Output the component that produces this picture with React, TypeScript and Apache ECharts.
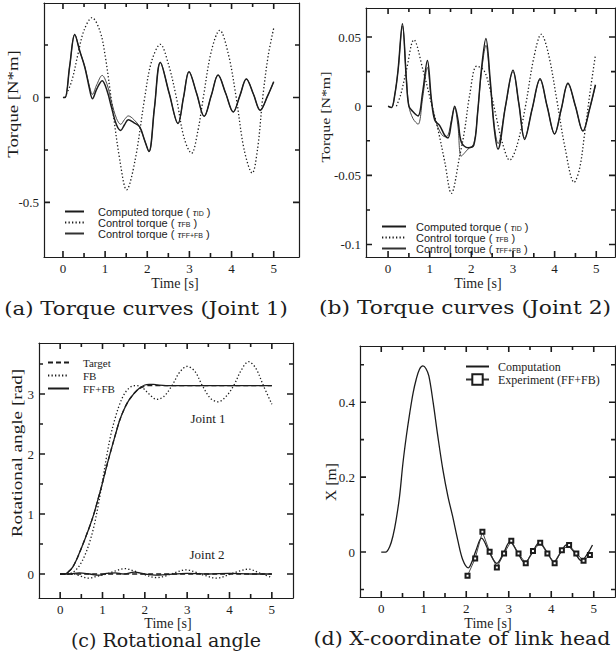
import React, { useEffect, useRef } from 'react';
import * as echarts from 'echarts';

// ---------- (a) Torque curves, Joint 1 ----------
const aTime = [0, 0.05, 0.16, 0.28, 0.4, 0.52, 0.62, 0.7, 0.8, 0.93, 1.05, 1.15, 1.27, 1.37, 1.46, 1.55, 1.68, 1.82, 1.93, 2.04, 2.17, 2.31, 2.52, 2.73, 2.86, 2.99, 3.17, 3.35, 3.52, 3.68, 3.86, 4.04, 4.2, 4.35, 4.52, 4.68, 4.85, 5.0];
const aComputed = [0, 0, 0.15, 0.3, 0.22, 0.143, 0.05, -0.006, 0.04, 0.08, 0.03, -0.046, -0.13, -0.157, -0.13, -0.106, -0.12, -0.14, -0.2, -0.258, -0.05, 0.167, 0.02, -0.124, 0.0, 0.123, 0.02, -0.09, 0.01, 0.107, 0.02, -0.069, 0.01, 0.088, 0.015, -0.061, 0.005, 0.075];
const aFFFB = [0, 0, 0.15, 0.3, 0.22, 0.145, 0.06, 0.015, 0.06, 0.105, 0.06, -0.02, -0.1, -0.128, -0.105, -0.088, -0.105, -0.14, -0.2, -0.258, -0.05, 0.167, 0.02, -0.124, 0.0, 0.123, 0.02, -0.09, 0.01, 0.107, 0.02, -0.069, 0.01, 0.088, 0.015, -0.061, 0.005, 0.075];
const aTimeFB = [0.05, 0.21, 0.36, 0.5, 0.69, 0.88, 1.0, 1.15, 1.35, 1.51, 1.71, 1.94, 2.1, 2.31, 2.5, 2.69, 2.87, 3.05, 3.2, 3.33, 3.52, 3.72, 3.92, 4.11, 4.3, 4.49, 4.62, 4.74, 4.87, 5.0];
const aFB = [0, 0.08, 0.21, 0.32, 0.38, 0.315, 0.2, -0.014, -0.3, -0.44, -0.3, 0.0, 0.17, 0.253, 0.16, 0.0, -0.19, -0.266, -0.16, 0.0, 0.22, 0.32, 0.21, 0.0, -0.25, -0.36, -0.24, 0.0, 0.2, 0.33];

// ---------- (b) Torque curves, Joint 2 ----------
const bTime = [0, 0.08, 0.16, 0.24, 0.345, 0.44, 0.5, 0.6, 0.72, 0.83, 0.945, 1.04, 1.12, 1.24, 1.36, 1.44, 1.52, 1.6, 1.68, 1.76, 1.92, 2.06, 2.15, 2.24, 2.35, 2.45, 2.55, 2.64, 2.82, 3.0, 3.14, 3.28, 3.46, 3.65, 3.82, 4.0, 4.16, 4.32, 4.5, 4.68, 4.84, 4.98];
const bComputed = [0, -0.001, 0.008, 0.026, 0.0596, 0.019, 0.0, -0.004, -0.007, 0.01, 0.033, 0.005, -0.01, -0.014, -0.021, -0.023, -0.012, 0.0, -0.01, -0.026, -0.03, -0.028, -0.005, 0.026, 0.049, 0.02, -0.016, -0.031, 0.0, 0.026, 0.002, -0.024, -0.002, 0.0198, 0.0, -0.02, -0.002, 0.0167, 0.0, -0.018, -0.002, 0.0155];
const bFFFB = [0, -0.001, 0.008, 0.026, 0.058, 0.02, 0.0, -0.009, -0.013, 0.006, 0.028, 0.004, -0.008, -0.018, -0.022, -0.021, -0.01, -0.001, -0.015, -0.036, -0.031, -0.027, -0.005, 0.024, 0.044, 0.018, -0.014, -0.027, 0.0, 0.025, 0.002, -0.023, -0.002, 0.019, 0.0, -0.02, -0.002, 0.016, 0.0, -0.018, -0.002, 0.015];
const bTimeFB = [0.2, 0.3, 0.44, 0.62, 0.84, 1.04, 1.2, 1.36, 1.52, 1.72, 1.84, 1.96, 2.13, 2.3, 2.45, 2.6, 2.75, 2.92, 3.1, 3.3, 3.5, 3.68, 3.85, 4.05, 4.25, 4.47, 4.6, 4.72, 4.85, 4.98];
const bFB = [0, 0.008, 0.026, 0.048, 0.026, 0.002, -0.017, -0.04, -0.063, -0.036, -0.017, 0.008, 0.029, 0.026, 0.012, -0.008, -0.027, -0.039, -0.028, 0.0, 0.035, 0.052, 0.038, 0.005, -0.03, -0.055, -0.045, -0.02, 0.01, 0.037];

// ---------- (c) Rotational angle ----------
const cTime = [0, 0.1, 0.2, 0.3, 0.4, 0.5, 0.6, 0.7, 0.8, 0.9, 1.0, 1.1, 1.2, 1.3, 1.4, 1.5, 1.6, 1.7, 1.8, 1.9, 2.0, 2.1, 2.2, 2.3, 2.5, 3.0, 3.5, 4.0, 4.5, 5.0];
const cTarget1 = [0, 0, 0.04, 0.12, 0.26, 0.43, 0.61, 0.8, 1.01, 1.26, 1.52, 1.8, 2.06, 2.31, 2.55, 2.73, 2.87, 2.97, 3.05, 3.1, 3.13, 3.14, 3.14, 3.14, 3.14, 3.14, 3.14, 3.14, 3.14, 3.14];
const cFFFB1 = [0, 0, 0.04, 0.12, 0.26, 0.43, 0.61, 0.8, 1.01, 1.26, 1.52, 1.8, 2.06, 2.31, 2.55, 2.73, 2.87, 2.97, 3.05, 3.11, 3.15, 3.16, 3.16, 3.15, 3.14, 3.14, 3.14, 3.14, 3.14, 3.14];
const cTimeFB1 = [0, 0.2, 0.3, 0.4, 0.5, 0.6, 0.7, 0.8, 0.9, 1.0, 1.1, 1.2, 1.3, 1.4, 1.5, 1.6, 1.7, 1.8, 1.95, 2.1, 2.28, 2.45, 2.65, 2.82, 3.0, 3.18, 3.35, 3.55, 3.73, 3.92, 4.1, 4.28, 4.45, 4.62, 4.8, 5.0];
const cFB1 = [0, 0, 0.03, 0.09, 0.19, 0.34, 0.54, 0.8, 1.15, 1.55, 1.97, 2.33, 2.6, 2.82, 2.98, 3.08, 3.13, 3.14, 3.1, 3.0, 2.91, 2.96, 3.15, 3.36, 3.46, 3.38, 3.15, 2.93, 2.87, 2.96, 3.14, 3.4, 3.54, 3.43, 3.14, 2.83];
const cTimeJ2 = [0, 0.2, 0.45, 0.7, 0.9, 1.1, 1.3, 1.5, 1.75, 2.0, 2.25, 2.5, 3.0, 3.5, 4.0, 4.5, 5.0];
const cTarget2 = [0, 0, 0, 0, 0, 0, 0, 0, 0, 0, 0, 0, 0, 0, 0, 0, 0];
const cFFFB2 = [0, 0, 0.02, 0.0, -0.02, 0.01, 0.02, 0.0, 0.03, 0.0, -0.02, -0.01, 0.01, 0.0, 0.01, 0.0, 0.0];
const cTimeFB2 = [0, 0.3, 0.5, 0.67, 0.85, 1.1, 1.3, 1.52, 1.75, 1.95, 2.28, 2.5, 2.7, 2.98, 3.2, 3.4, 3.7, 3.95, 4.15, 4.45, 4.7, 5.0];
const cFB2 = [0, 0, -0.04, -0.07, -0.04, 0.0, 0.05, 0.09, 0.05, 0.0, -0.06, -0.03, 0.02, 0.07, 0.03, -0.02, -0.07, -0.02, 0.03, 0.08, 0.02, -0.06];

// ---------- (d) X-coordinate of link head ----------
const dTime = [0, 0.1, 0.2, 0.28, 0.35, 0.43, 0.51, 0.59, 0.67, 0.75, 0.82, 0.9, 0.98, 1.05, 1.12, 1.22, 1.33, 1.45, 1.57, 1.68, 1.8, 1.92, 2.05, 2.15, 2.23, 2.36, 2.54, 2.72, 2.88, 3.03, 3.2, 3.38, 3.55, 3.72, 3.9, 4.06, 4.21, 4.36, 4.54, 4.71, 4.85, 4.97];
const dComputation = [0, 0, 0.015, 0.045, 0.086, 0.148, 0.237, 0.309, 0.371, 0.425, 0.46, 0.488, 0.497, 0.49, 0.47, 0.4, 0.31, 0.22, 0.148, 0.095, 0.032, -0.021, -0.042, -0.021, 0.005, 0.037, 0.0, -0.03, -0.002, 0.028, 0.0, -0.029, -0.002, 0.025, 0.0, -0.026, -0.003, 0.019, 0.0, -0.023, -0.005, 0.019];
const dTimeExp = [2.03, 2.21, 2.38, 2.55, 2.72, 2.89, 3.06, 3.23, 3.4, 3.57, 3.74, 3.91, 4.08, 4.25, 4.42, 4.59, 4.76, 4.91];
const dExperiment = [-0.063, -0.017, 0.054, 0.001, -0.041, -0.004, 0.03, -0.004, -0.03, 0.003, 0.025, -0.004, -0.03, 0.005, 0.019, -0.004, -0.023, -0.008];

// ---------- ticks ----------
const xLabels = [0, 1, 2, 3, 4, 5];
const xTicks = [0, 0.5, 1, 1.5, 2, 2.5, 3, 3.5, 4, 4.5, 5];
const aYLabels = [-0.5, 0];
const aYTicks = [-0.5, -0.25, 0, 0.25];
const bYLabels = [-0.1, -0.05, 0, 0.05];
const bYTicks = [-0.1, -0.075, -0.05, -0.025, 0, 0.025, 0.05];
const cYLabels = [0, 1, 2, 3];
const cYTicks = [0, 0.5, 1, 1.5, 2, 2.5, 3, 3.5];
const dYLabels = [0, 0.2, 0.4];
const dYTicks = [-0.1, 0, 0.1, 0.2, 0.3, 0.4, 0.5];

// axis ranges per panel [xmin, xmax, ymin, ymax] and grid boxes [left, top, width, height]
const RANGES = [
  [-0.45, 5.6, -0.76, 0.45],
  [-0.53, 5.45, -0.109, 0.071],
  [-0.5, 5.5, -0.4, 3.85],
  [-0.5, 5.5, -0.12, 0.55],
];
const BOXES = [
  [44, 3, 255, 254],
  [366, 8, 249, 249],
  [39, 343, 254, 255],
  [360, 346, 255, 251],
];
const Y_LABELS = [aYLabels, bYLabels, cYLabels, dYLabels];
const Y_TICKS = [aYTicks, bYTicks, cYTicks, dYTicks];

const SERIF = '"Liberation Serif", "Times New Roman", serif';
const SANS = '"Liberation Sans", Arial, sans-serif';
const CAPTION = '"DejaVu Serif", serif';
const INK = '#1c1c1c';

const pairs = (t: number[], v: number[]) => t.map((x, i) => [x, v[i]]);

const LEGEND_TEXT: Record<string, string> = {
  a_ID: 'Computed torque ( {t|τ}{s|ID} )',
  a_FB: 'Control torque ( {t|τ}{s|FB} )',
  a_FFFB: 'Control torque ( {t|τ}{s|FF+FB} )',
  b_ID: 'Computed torque ( {t|τ}{s|ID} )',
  b_FB: 'Control torque ( {t|τ}{s|FB} )',
  b_FFFB: 'Control torque ( {t|τ}{s|FF+FB} )',
  c_T: 'Target',
  c_FB: 'FB',
  c_FFFB: 'FF+FB',
  d_C: 'Computation',
  d_E: 'Experiment (FF+FB)',
};

const solidBold = { color: INK, width: 1.5, type: 'solid' };
const solidThin = { color: '#333', width: 0.9, type: 'solid' };
const dotted = { color: INK, width: 1.3, type: [1.3, 2.2] };
const dashed = { color: INK, width: 1.3, type: [5, 3] };

function line(name: string, panel: number, t: number[], v: number[], lineStyle: any, extra: any = {}) {
  return {
    type: 'line',
    name,
    xAxisIndex: panel * 2,
    yAxisIndex: panel * 2,
    data: pairs(t, v),
    symbol: 'none',
    showSymbol: false,
    smooth: 0.35,
    lineStyle,
    itemStyle: { color: INK },
    silent: true,
    z: 3,
    ...extra,
  };
}

// tick marks of one box, drawn as a broken line series in data coordinates
function tickSeries(p: number) {
  const [xmin, xmax, ymin, ymax] = RANGES[p];
  const [, , bw, bh] = BOXES[p];
  const dx = (n: number) => (n / bw) * (xmax - xmin);
  const dy = (n: number) => (n / bh) * (ymax - ymin);
  const data: any[] = [];
  xTicks.forEach((v) => {
    const len = xLabels.includes(v) ? 6 : 4;
    data.push([v, ymin], [v, ymin + dy(len)], null, [v, ymax], [v, ymax - dy(len)], null);
  });
  Y_TICKS[p].forEach((v) => {
    const len = Y_LABELS[p].includes(v) ? 6 : 4;
    data.push([xmin, v], [xmin + dx(len), v], null, [xmax, v], [xmax - dx(len), v], null);
  });
  return {
    type: 'line', name: 'ticks' + p, xAxisIndex: p * 2, yAxisIndex: p * 2,
    data, symbol: 'none', showSymbol: false, smooth: false, connectNulls: false,
    clip: false, silent: true, z: 6,
    lineStyle: { color: INK, width: 1.6, type: 'solid' }, itemStyle: { color: INK },
  };
}

const axisLineStyle = { show: true, onZero: false, lineStyle: { color: INK, width: 1.2 } };

function xAxes(grid: number) {
  const [min, max] = RANGES[grid];
  const base = {
    type: 'value', gridIndex: grid, min, max,
    axisLine: axisLineStyle, splitLine: { show: false },
    axisTick: { show: false },
  };
  return [
    { ...base, position: 'bottom',
      axisLabel: { show: true, customValues: xLabels, margin: 5, fontFamily: SERIF, fontSize: 13, color: INK, formatter: (v: number) => String(v) } },
    { ...base, position: 'top', axisLabel: { show: false } },
  ];
}

function yAxes(grid: number) {
  const [, , min, max] = RANGES[grid];
  const base = {
    type: 'value', gridIndex: grid, min, max,
    axisLine: axisLineStyle, splitLine: { show: false },
    axisTick: { show: false },
  };
  return [
    { ...base, position: 'left',
      axisLabel: { show: true, customValues: Y_LABELS[grid], margin: 5, fontFamily: SERIF, fontSize: 13, color: INK, formatter: (v: number) => String(v) } },
    { ...base, position: 'right', axisLabel: { show: false } },
  ];
}

function legend(items: any[], left: number, top: number, itemWidth: number, gapH: number, padLeft: number, font: string, size: number) {
  return {
    data: items,
    left, top,
    orient: 'vertical',
    padding: 0,
    itemGap: 0,
    itemWidth,
    itemHeight: gapH,
    selectedMode: false,
    formatter: (n: string) => LEGEND_TEXT[n],
    textStyle: {
      fontFamily: font, fontSize: size, color: INK, lineHeight: gapH, padding: [0, 0, 0, padLeft],
      rich: {
        t: { fontFamily: SERIF, fontStyle: 'italic', fontSize: size, lineHeight: gapH },
        s: { fontFamily: SANS, fontSize: 7, lineHeight: gapH, verticalAlign: 'bottom' },
      },
    },
  };
}

const hideSym = (name: string) => ({ name, itemStyle: { opacity: 0 } });

function txt(text: string, x: number, y: number, size: number, family: string, rotate = false, stretch = 1) {
  return {
    type: 'text', x, y, rotation: rotate ? Math.PI / 2 : 0, scaleX: stretch, silent: true,
    style: {
      text, fill: INK, fontSize: size, fontFamily: family,
      align: 'center', verticalAlign: 'middle', textAlign: 'center', textVerticalAlign: 'middle',
    },
  };
}

const TEXTS = [
  txt('Torque [N*m]', 13, 104, 15, SERIF, true, 1.25),
  txt('Torque [N*m]', 326, 117, 13, SERIF, true, 1.22),
  txt('Rotational angle [rad]', 17, 453, 15, SERIF, true, 1.28),
  txt('X [m]', 331, 482, 14, SERIF, true, 1.12),
  txt('Time [s]', 175, 283, 14, SERIF),
  txt('Time [s]', 478, 283, 14, SERIF),
  txt('Time [s]', 168, 623, 14, SERIF),
  txt('Time [s]', 488, 623, 14, SERIF),
  txt('Joint 1', 208, 418, 13, SERIF),
  txt('Joint 2', 207, 554, 13, SERIF),
  txt('(a) Torque curves (Joint 1)', 146, 308, 19, CAPTION, false, 1.12),
  txt('(b) Torque curves (Joint 2)', 465, 308, 19, CAPTION, false, 1.15),
  txt('(c) Rotational angle', 166, 640, 19, CAPTION, false, 1.0),
  txt('(d) X-coordinate of link head', 462, 639, 19, CAPTION, false, 1.08),
];

export default function App() {
  const ref = useRef<HTMLDivElement>(null);
  useEffect(() => {
    if (!ref.current) return;
    const chart = echarts.init(ref.current, undefined, { renderer: 'svg' });
    const option: any = {
      animation: false,
      backgroundColor: '#ffffff',
      grid: BOXES.map(([left, top, width, height]) => ({ left, top, width, height })),
      xAxis: [...xAxes(0), ...xAxes(1), ...xAxes(2), ...xAxes(3)],
      yAxis: [...yAxes(0), ...yAxes(1), ...yAxes(2), ...yAxes(3)],
      legend: [
        legend([hideSym('a_ID'), hideSym('a_FB'), hideSym('a_FFFB')], 64, 206, 19, 11, 9, SANS, 11),
        legend([hideSym('b_ID'), hideSym('b_FB'), hideSym('b_FFFB')], 381, 221, 24, 11, 5, SANS, 11),
        legend([hideSym('c_T'), hideSym('c_FB'), hideSym('c_FFFB')], 47, 356, 21, 13, 9, SERIF, 11),
        legend([hideSym('d_C'), { name: 'd_E' }], 465, 360, 23, 13, 4, SERIF, 12),
      ],
      graphic: { elements: TEXTS },
      series: [
        line('a_FB', 0, aTimeFB, aFB, dotted),
        line('a_FFFB', 0, aTime, aFFFB, solidThin),
        line('a_ID', 0, aTime, aComputed, solidBold),

        line('b_FB', 1, bTimeFB, bFB, dotted),
        line('b_FFFB', 1, bTime, bFFFB, solidThin),
        line('b_ID', 1, bTime, bComputed, solidBold),

        line('c_T', 2, cTime, cTarget1, dashed),
        line('c_FB', 2, cTimeFB1, cFB1, dotted),
        line('c_FFFB', 2, cTime, cFFFB1, { color: INK, width: 1.3, type: 'solid' }),
        line('c_T', 2, cTimeJ2, cTarget2, dashed),
        line('c_FB', 2, cTimeFB2, cFB2, dotted),
        line('c_FFFB', 2, cTimeJ2, cFFFB2, { color: INK, width: 1.3, type: 'solid' }),

        line('d_C', 3, dTime, dComputation, { color: INK, width: 1.3, type: 'solid' }),
        line('d_E', 3, dTimeExp, dExperiment, { color: '#333', width: 0.9, type: 'solid' }, {
          smooth: false, symbol: 'emptyRect', symbolSize: 4, showSymbol: true,
          itemStyle: { color: INK, borderColor: INK, borderWidth: 0.8 },
        }),

        tickSeries(0), tickSeries(1), tickSeries(2), tickSeries(3),
      ],
    };
    chart.setOption(option);
    return () => chart.dispose();
  }, []);
  return (
    <div
      ref={ref}
      style={{ position: 'fixed', left: 0, top: 0, width: 616, height: 663, background: '#fff' }}
    />
  );
}
